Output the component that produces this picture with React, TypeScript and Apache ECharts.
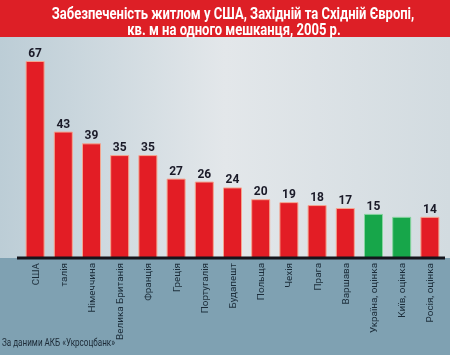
import React, { useEffect, useRef } from "react";
import * as echarts from "echarts";

const titleLines = [
  "Забезпеченість житлом у США, Західній та Східній Європі,",
  "кв. м на одного мешканця, 2005 р.",
];
const sourceNote = "За даними АКБ «Укрсоцбанк»";
const categories = [
  "США",
  "талія",
  "Німеччина",
  "Велика Британія",
  "Франція",
  "Греція",
  "Португалія",
  "Будапешт",
  "Польща",
  "Чехія",
  "Прага",
  "Варшава",
  "Україна, оцінка",
  "Київ, оцінка",
  "Росія, оцінка",
];
const values = [67, 43, 39, 35, 35, 27, 26, 24, 20, 19, 18, 17, 15, 14, 14];
const greenCategories = ["Україна, оцінка", "Київ, оцінка"];
const unlabeledCategories = ["Київ, оцінка"];

const FAMILY = "Roboto, 'Noto Sans', sans-serif";

function measure(text: string, font: string): number {
  const ctx = document.createElement("canvas").getContext("2d")!;
  ctx.font = font;
  return ctx.measureText(text).width;
}

export default function App() {
  const ref = useRef<HTMLDivElement>(null);
  useEffect(() => {
    document.body.style.margin = "0";
    const chart = echarts.init(ref.current!, null, { renderer: "svg" });

    const titleFont = `bold 15px ${FAMILY}`;
    const titleScale = 363 / measure(titleLines[0], titleFont);
    const noteFont = `11px ${FAMILY}`;
    const noteScale = 113 / measure(sourceNote, noteFont);
    const labelSize = Math.min(
      10,
      (11 * 77) / measure("Велика Британія", `11px ${FAMILY}`)
    );

    const data = categories.map((c, i) => ({
      value: values[i],
      itemStyle: greenCategories.includes(c)
        ? { color: "#17a64a", borderColor: "#86d49f" }
        : { color: "#e31d25", borderColor: "#f4a590" },
      label: { show: !unlabeledCategories.includes(c) },
    }));

    chart.setOption({
      animation: false,
      graphic: [
        {
          type: "rect",
          z: -10,
          shape: { x: 0, y: 37, width: 450, height: 222 },
          style: {
            fill: new echarts.graphic.LinearGradient(0, 0, 1, 0, [
              { offset: 0, color: "#bccdd6" },
              { offset: 0.5, color: "#e3e7ea" },
              { offset: 1, color: "#d2dbe0" },
            ]),
          },
        },
        {
          type: "rect",
          z: -10,
          shape: { x: 0, y: 0, width: 450, height: 37 },
          style: { fill: "#dd1f26" },
        },
        {
          type: "rect",
          z: -10,
          shape: { x: 0, y: 258, width: 450, height: 97 },
          style: { fill: "#7fa1b2" },
        },
        {
          type: "line",
          z: 50,
          shape: { x1: 17, y1: 258, x2: 445, y2: 258 },
          style: { stroke: "#15151c", lineWidth: 3 },
        },
        {
          type: "text",
          x: 233,
          y: 13,
          scaleX: titleScale,
          scaleY: 1.08,
          style: {
            text: titleLines[0],
            fill: "#ffffff",
            font: titleFont,
            align: "center",
            verticalAlign: "middle",
          },
        },
        {
          type: "text",
          x: 234,
          y: 29,
          scaleX: titleScale,
          scaleY: 1.08,
          style: {
            text: titleLines[1],
            fill: "#ffffff",
            font: titleFont,
            align: "center",
            verticalAlign: "middle",
          },
        },
        {
          type: "text",
          x: 2,
          y: 342,
          scaleX: noteScale,
          style: {
            text: sourceNote,
            fill: "#1c2a36",
            font: noteFont,
            align: "left",
            verticalAlign: "middle",
          },
        },
      ],
      grid: { left: 21, right: 6, top: 61, bottom: 97 },
      xAxis: {
        type: "category",
        data: categories,
        axisLine: { show: false },
        axisTick: { show: false },
        axisLabel: {
          interval: 0,
          rotate: 90,
          margin: 5,
          fontSize: labelSize,
          fontFamily: FAMILY,
          color: "#1c2d3a",
        },
      },
      yAxis: {
        type: "value",
        min: 0,
        max: 67,
        show: false,
        splitLine: { show: false },
      },
      series: [
        {
          type: "bar",
          data,
          barWidth: 19,
          itemStyle: { borderWidth: 1 },
          label: {
            show: true,
            position: "top",
            distance: 2,
            fontSize: 12,
            fontWeight: "bold",
            fontFamily: FAMILY,
            color: "#1a1a28",
          },
        },
      ],
    });
    return () => chart.dispose();
  }, []);
  return (
    <div
      ref={ref}
      style={{ position: "fixed", left: 0, top: 0, width: 450, height: 355 }}
    />
  );
}
